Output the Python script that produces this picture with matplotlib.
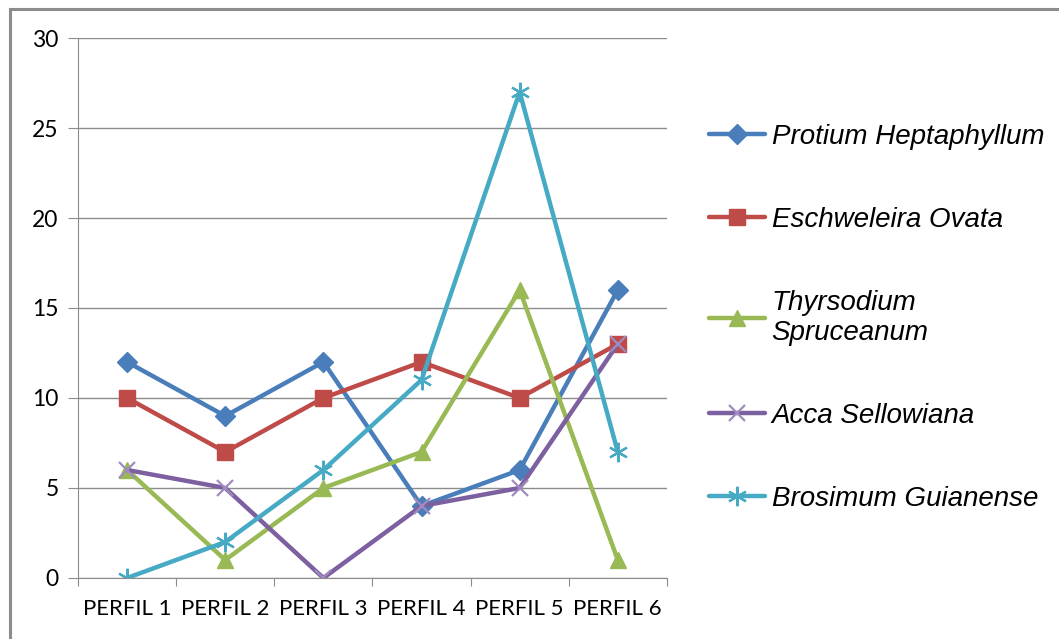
import matplotlib.pyplot as plt
from matplotlib.patches import Rectangle

# datos
perfiles = ['PERFIL 1', 'PERFIL 2', 'PERFIL 3', 'PERFIL 4', 'PERFIL 5', 'PERFIL 6']
protium = [12, 9, 12, 4, 6, 16]
eschweleira = [10, 7, 10, 12, 10, 13]
thyrsodium = [6, 1, 5, 7, 16, 1]
acca = [6, 5, 0, 4, 5, 13]
brosimum = [0, 2, 6, 11, 27, 7]

nombres = ['Protium Heptaphyllum', 'Eschweleira Ovata', 'Thyrsodium\nSpruceanum',
           'Acca Sellowiana', 'Brosimum Guianense']
series = [protium, eschweleira, thyrsodium, acca, brosimum]
colores = ['#4A7EBB', '#BE4B48', '#98B954', '#7D60A0', '#46AAC5']
marcadores = ['D', 's', '^', 'x', (6, 2, 0)]
tamanos = [10, 11, 11, 11, 14]

fig = plt.figure(figsize=(10.59, 6.39), dpi=100)
ax = fig.add_axes([0.0737, 0.0955, 0.556, 0.845])

x = range(len(perfiles))
for i in range(len(series)):
    ax.plot(x, series[i], color=colores[i], linewidth=3.2, marker=marcadores[i],
            markersize=tamanos[i], markeredgewidth=1.6 if i >= 3 else 1,
            markeredgecolor=colores[i] if i != 3 else '#A08BC0',
            label=nombres[i], solid_capstyle='round')

ax.set_xlim(-0.5, 5.5)
ax.set_ylim(0, 30)
ax.set_yticks(range(0, 31, 5))
ax.set_xticks([i - 0.5 for i in range(7)], minor=False)
ax.set_xticklabels([])
ax.set_xticks(list(x), minor=True)
ax.set_xticklabels(perfiles, minor=True, fontsize=16, family='Lato')
ax.tick_params(axis='x', which='minor', length=0, pad=15)
ax.tick_params(axis='x', which='major', length=6, color='#8C8C8C', direction='out')
ax.tick_params(axis='y', length=7, color='#8C8C8C', labelsize=16.5, pad=7)
for t in ax.get_yticklabels():
    t.set_family('Lato')
ax.yaxis.grid(True, color='#8C8C8C', linewidth=1)
ax.set_axisbelow(True)
for lado in ['top', 'right']:
    ax.spines[lado].set_visible(False)
for lado in ['left', 'bottom']:
    ax.spines[lado].set_color('#8C8C8C')

fig.legend(loc='upper left', bbox_to_anchor=(0.646, 0.845), frameon=False,
           prop={'family': 'Liberation Sans', 'style': 'italic', 'size': 20},
           labelspacing=2.05, handlelength=2.0, handletextpad=0.25)

# marco gris alrededor de la figura
fig.patches.append(Rectangle((0.009, -0.02), 1.1, 1.006, transform=fig.transFigure,
                             fill=False, edgecolor='#8C8C8C', linewidth=2.2))

fig.savefig('out.png', dpi=100)
